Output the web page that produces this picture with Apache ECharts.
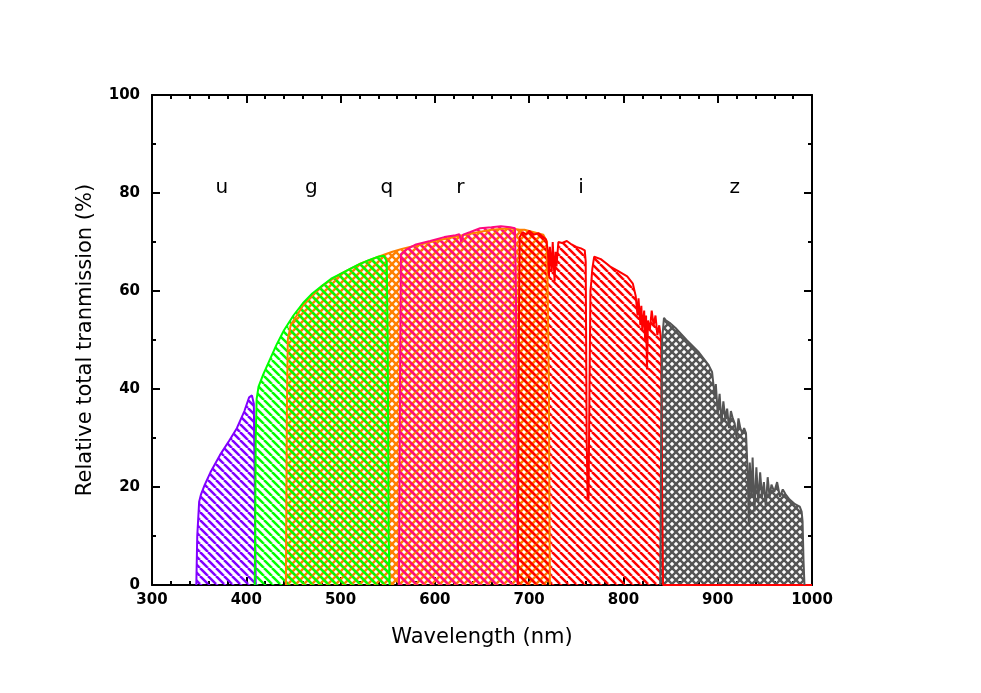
<!DOCTYPE html>
<html>
<head>
<meta charset="utf-8">
<script src="https://cdn.jsdelivr.net/npm/echarts@6/dist/echarts.min.js"></script>
<style>
  html, body { margin: 0; padding: 0; background: #fff; }
  #chart { width: 981px; height: 693px; }
</style>
</head>
<body>
<div id="chart"></div>
<script>
// 滤光片透过率曲线 (nm, %)
const uWave = [347, 348, 350, 352, 356, 362, 372, 382, 390, 398, 403, 406, 408, 409, 410]
const uTrans = [0, 10, 17, 18.5, 20.5, 23, 26.5, 29.5, 32, 35.5, 38.3, 38.7, 37, 20, 0]

const gWave = [409, 410, 411, 413, 418, 425, 432, 440, 450, 460, 470, 480, 490, 500, 510, 520, 530, 540, 546, 549, 550, 551, 552]
const gTrans = [0, 30, 38, 40.5, 43, 46, 49, 52, 55, 57.5, 59.5, 61, 62.5, 63.5, 64.5, 65.5, 66.3, 67, 67.2, 66, 50, 10, 0]

const qWave = [442, 443, 444, 447, 460, 480, 500, 520, 540, 555, 565, 580, 600, 620, 640, 660, 680, 690, 695, 705, 715, 719, 721, 722]
const qTrans = [0, 35, 50, 53, 57, 61, 63.5, 65.5, 67, 68, 68.6, 69.3, 70.2, 71, 71.8, 72.5, 72.8, 72.5, 72.5, 72, 71.5, 70, 40, 0]

const rWave = [562, 563, 564, 570, 580, 595, 610, 622, 626, 628, 630, 637, 648, 660, 670, 680, 685, 686, 687, 688]
const rTrans = [0, 40, 67.5, 68.5, 69.5, 70.2, 71, 71.4, 71.6, 70, 71.5, 72, 72.8, 73, 73.2, 73, 72.8, 60, 20, 0]

const iWave = [688, 689, 690, 693, 697, 700, 705, 710, 715, 718, 720, 721, 722, 724, 725, 727, 728, 729, 731, 735, 740, 745, 750, 755, 759, 760, 761, 762, 763, 764, 765, 766, 767, 769, 771, 776, 786, 795, 804, 810, 813, 815, 816, 818, 819, 820, 822, 823, 824, 825, 826, 828, 830, 832, 834, 836, 838, 840, 841, 842, 900, 1000]
const iTrans = [0, 50, 71, 72, 71.5, 72.3, 71.5, 71.8, 71, 70.5, 68, 63, 69, 64, 70, 62, 68, 65, 70, 69.8, 70.2, 69.5, 69, 68.7, 68.3, 66, 30, 18, 17.5, 40, 60, 62, 64.5, 67, 67.2, 66.5, 65, 64, 63, 61.5, 59, 55, 58.5, 53, 57, 52, 56, 50, 55, 44, 54, 52, 56, 53, 55, 51, 53, 50, 20, 0, 0, 0]

const zWave = [839, 840, 841, 843, 845, 849, 855, 867, 880, 890, 894, 896, 897, 898, 900, 902, 904, 906, 908, 910, 912, 914, 916, 918, 920, 922, 924, 926, 928, 930, 932, 933, 934, 936, 937, 939, 941, 943, 945, 947, 949, 951, 953, 955, 957, 960, 963, 966, 969, 972, 976, 982, 987, 989, 990, 991, 992]
const zTrans = [0, 30, 50, 54.5, 54, 53.5, 52.5, 50, 47.5, 45, 43.5, 40, 38, 41, 35, 39, 33, 37.5, 34, 36, 32, 35.5, 34, 33, 30, 34, 32, 31, 32, 31, 22, 12, 25, 18, 26, 15, 24, 17, 23, 18, 21, 16, 22, 18, 20.5, 19, 21, 18, 19.5, 18.5, 17.5, 16.5, 16, 15, 13, 5, 0]

// 波段标注
const bandNames = ['u', 'g', 'q', 'r', 'i', 'z']
const bandLabelX = [374, 469, 549, 627, 755, 918]
const bandLabelY = [81, 81, 81, 81, 81, 81]

const xTicks = [300, 400, 500, 600, 700, 800, 900, 1000]
const yTicks = [0, 20, 40, 60, 80, 100]

// 斜线填充纹理
const makeHatch = (color, cross) => {
  const s = 8
  const c = document.createElement('canvas')
  c.width = s
  c.height = s
  const ctx = c.getContext('2d')
  ctx.strokeStyle = color
  ctx.lineWidth = 2.5
  for (const x0 of [-s, 0, s]) {
    ctx.beginPath()
    ctx.moveTo(x0, 0)
    ctx.lineTo(x0 + s, s)
    ctx.stroke()
    if (cross) {
      ctx.beginPath()
      ctx.moveTo(x0, s)
      ctx.lineTo(x0 + s, 0)
      ctx.stroke()
    }
  }
  return { image: c, repeat: 'repeat' }
}

const zip = (xs, ys) => xs.map((x, i) => [x, ys[i]])

const band = (name, wave, trans, color, cross) => ({
  name,
  type: 'line',
  data: zip(wave, trans),
  showSymbol: false,
  symbol: 'none',
  lineStyle: { color, width: 2 },
  itemStyle: { color },
  areaStyle: { color: makeHatch(color, cross), opacity: 1 },
  silent: true
})

const tickFont = {
  color: '#000',
  fontSize: 15,
  fontWeight: 'bold',
  fontFamily: 'DejaVu Sans',
  formatter: v => String(v)
}

const baseX = {
  type: 'value',
  min: 300,
  max: 1000,
  interval: 100,
  axisLine: { show: true, onZero: false, lineStyle: { color: '#000', width: 2 } },
  axisTick: { show: true, inside: true, length: 8, lineStyle: { color: '#000', width: 2 } },
  minorTick: { show: true, splitNumber: 5, length: 4, lineStyle: { color: '#000', width: 2 } },
  splitLine: { show: false }
}

const baseY = {
  type: 'value',
  min: 0,
  max: 100,
  interval: 20,
  axisLine: { show: true, onZero: false, lineStyle: { color: '#000', width: 2 } },
  axisTick: { show: true, inside: true, length: 8, lineStyle: { color: '#000', width: 2 } },
  minorTick: { show: true, splitNumber: 2, length: 4, lineStyle: { color: '#000', width: 2 } },
  splitLine: { show: false }
}

const chart = echarts.init(document.getElementById('chart'))

chart.setOption({
  animation: false,
  backgroundColor: '#fff',
  grid: { left: 152, right: 169, top: 95, bottom: 108 },
  xAxis: [
    {
      ...baseX,
      position: 'bottom',
      name: 'Wavelength (nm)',
      nameLocation: 'middle',
      nameGap: 42,
      nameTextStyle: { color: '#000', fontSize: 21, fontFamily: 'DejaVu Sans' },
      axisLabel: { ...tickFont, margin: 8, customValues: xTicks }
    },
    {
      ...baseX,
      position: 'top',
      axisLabel: { show: false }
    }
  ],
  yAxis: [
    {
      ...baseY,
      position: 'left',
      name: 'Relative total tranmission (%)',
      nameLocation: 'middle',
      nameGap: 56,
      nameTextStyle: { color: '#000', fontSize: 21, fontFamily: 'DejaVu Sans' },
      axisLabel: { ...tickFont, margin: 12, customValues: yTicks }
    },
    {
      ...baseY,
      position: 'right',
      axisLabel: { show: false }
    }
  ],
  series: [
    band('q', qWave, qTrans, '#FF8000', true),
    band('u', uWave, uTrans, '#8000FF', false),
    band('g', gWave, gTrans, '#00FF00', false),
    band('r', rWave, rTrans, '#FF0A80', false),
    band('i', iWave, iTrans, '#FF0000', false),
    band('z', zWave, zTrans, '#555555', true),
    {
      type: 'scatter',
      symbolSize: 0,
      silent: true,
      itemStyle: { color: '#000', opacity: 1 },
      data: bandNames.map((n, i) => ({ name: n, value: [bandLabelX[i], bandLabelY[i]] })),
      label: {
        show: true,
        position: 'inside',
        formatter: p => p.name,
        color: '#000',
        opacity: 1,
        textBorderWidth: 0,
        fontSize: 20,
        fontFamily: 'DejaVu Sans'
      }
    }
  ]
})
</script>
</body>
</html>
